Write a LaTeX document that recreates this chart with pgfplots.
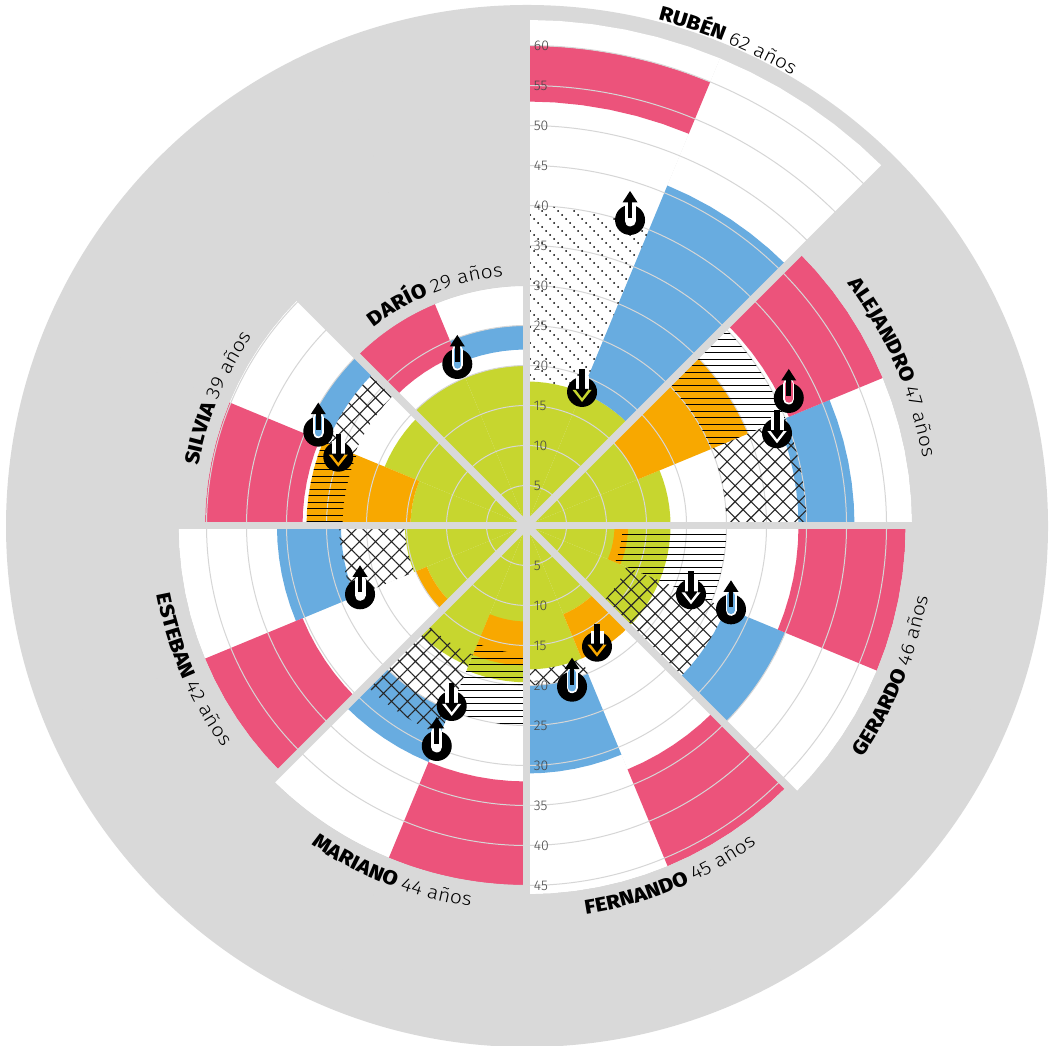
\documentclass[border=0pt]{standalone}
\usepackage{pgfplots}
\pgfplotsset{compat=1.18}
\usepackage{fontspec}
\usepgfplotslibrary{polar}
\usetikzlibrary{patterns,patterns.meta,decorations.text}
\setmainfont{Fira Sans}
\newfontfamily\lt{Fira Sans Light}
\newfontfamily\ltsp{Fira Sans Light}[FakeStretch=1.11]
\newfontfamily\hv{Fira Sans ExtraBold}[FakeStretch=1.11]
\definecolor{disc}{HTML}{D9D9D9}
\definecolor{gridc}{HTML}{D6D6D6}
\definecolor{cred}{HTML}{EC537B}
\definecolor{cblue}{HTML}{68ACE0}
\definecolor{cgreen}{HTML}{C7D62F}
\definecolor{corange}{HTML}{F8A800}
\definecolor{numc}{HTML}{444444}
\pgfdeclarepatternformonly{diagdots}{\pgfqpoint{-1pt}{-1pt}}{\pgfqpoint{17pt}{17pt}}{\pgfqpoint{16pt}{16pt}}{%
  \pgfpathcircle{\pgfqpoint{2pt}{14pt}}{1pt}\pgfpathcircle{\pgfqpoint{6pt}{10pt}}{1pt}%
  \pgfpathcircle{\pgfqpoint{10pt}{6pt}}{1pt}\pgfpathcircle{\pgfqpoint{14pt}{2pt}}{1pt}\pgfusepath{fill}}
\pgfdeclarepatternformonly{hlines}{\pgfqpoint{-2pt}{-1pt}}{\pgfqpoint{42pt}{7.5pt}}{\pgfqpoint{40pt}{6.5pt}}{%
  \pgfpathrectanglecorners{\pgfqpoint{-2pt}{2.7pt}}{\pgfqpoint{42pt}{3.8pt}}\pgfusepath{fill}}
\pgfplotsset{
  bnd/.style={data cs=polar,draw=none},
  cw/.style={bnd,fill=white},
  cg/.style={bnd,fill=cgreen},
  co/.style={bnd,fill=corange},
  cb/.style={bnd,fill=cblue},
  cr/.style={bnd,fill=cred},
  cd/.style={bnd,fill=disc},
  hh/.style={bnd,pattern=hlines,pattern color=black},
  hx/.style={bnd,pattern={Hatch[angle=45,distance=11.3pt,line width=1.1pt]},pattern color=black!85},
  hd/.style={bnd,pattern=diagdots,pattern color=black},
}
% one half sector: seven angles, then inner and outer radius
\newcommand\seg[9]{(#1,#9)(#2,#9)(#3,#9)(#4,#9)(#5,#9)(#6,#9)(#7,#9)(#7,#8)(#6,#8)(#5,#8)(#4,#8)(#3,#8)(#2,#8)(#1,#8)}
\newcommand\sA[2]{\seg{67.5}{71.25}{75}{78.75}{82.5}{86.25}{90}{#1}{#2}}
\newcommand\sB[2]{\seg{45}{48.75}{52.5}{56.25}{60}{63.75}{67.5}{#1}{#2}}
\newcommand\sC[2]{\seg{22.5}{26.25}{30}{33.75}{37.5}{41.25}{45}{#1}{#2}}
\newcommand\sD[2]{\seg{0}{3.75}{7.5}{11.25}{15}{18.75}{22.5}{#1}{#2}}
\newcommand\sE[2]{\seg{-22.5}{-18.75}{-15}{-11.25}{-7.5}{-3.75}{0}{#1}{#2}}
\newcommand\sF[2]{\seg{-45}{-41.25}{-37.5}{-33.75}{-30}{-26.25}{-22.5}{#1}{#2}}
\newcommand\sG[2]{\seg{-67.5}{-63.75}{-60}{-56.25}{-52.5}{-48.75}{-45}{#1}{#2}}
\newcommand\sH[2]{\seg{-90}{-86.25}{-82.5}{-78.75}{-75}{-71.25}{-67.5}{#1}{#2}}
\newcommand\sI[2]{\seg{-112.5}{-108.75}{-105}{-101.25}{-97.5}{-93.75}{-90}{#1}{#2}}
\newcommand\sJ[2]{\seg{-135}{-131.25}{-127.5}{-123.75}{-120}{-116.25}{-112.5}{#1}{#2}}
\newcommand\sK[2]{\seg{-157.5}{-153.75}{-150}{-146.25}{-142.5}{-138.75}{-135}{#1}{#2}}
\newcommand\sL[2]{\seg{-180}{-176.25}{-172.5}{-168.75}{-165}{-161.25}{-157.5}{#1}{#2}}
\newcommand\sM[2]{\seg{-202.5}{-198.75}{-195}{-191.25}{-187.5}{-183.75}{-180}{#1}{#2}}
\newcommand\sN[2]{\seg{-225}{-221.25}{-217.5}{-213.75}{-210}{-206.25}{-202.5}{#1}{#2}}
\newcommand\sO[2]{\seg{-247.5}{-243.75}{-240}{-236.25}{-232.5}{-228.75}{-225}{#1}{#2}}
\newcommand\sP[2]{\seg{-270}{-266.25}{-262.5}{-258.75}{-255}{-251.25}{-247.5}{#1}{#2}}
\newcommand\band[2]{\edef\tmpband{\noexpand\addplot[#1] coordinates {#2};}\tmpband}
% markers
\newcommand\declmarks[2]{%
\pgfdeclareplotmark{up#1}{%
  \pgfsetfillcolor{black}\pgfpathcircle{\pgfpointorigin}{15pt}\pgfusepathqfill
  \pgfsetroundcap
  \pgfsetstrokecolor{white}\pgfsetlinewidth{11pt}%
  \pgfpathmoveto{\pgfqpoint{0pt}{-1pt}}\pgfpathlineto{\pgfqpoint{0pt}{14pt}}\pgfusepathqstroke
  \pgfsetstrokecolor{#2}\pgfsetlinewidth{7.5pt}%
  \pgfpathmoveto{\pgfqpoint{0pt}{-1pt}}\pgfpathlineto{\pgfqpoint{0pt}{14pt}}\pgfusepathqstroke
  \pgfpathrectanglecorners{\pgfqpoint{-2.4pt}{2pt}}{\pgfqpoint{2.4pt}{20pt}}\pgfusepathqfill
  \pgfpathmoveto{\pgfqpoint{-7.5pt}{17.5pt}}\pgfpathlineto{\pgfqpoint{7.5pt}{17.5pt}}\pgfpathlineto{\pgfqpoint{0pt}{29pt}}\pgfpathclose\pgfusepathqfill
}%
\pgfdeclareplotmark{dn#1}{%
  \pgfsetfillcolor{black}\pgfpathcircle{\pgfpointorigin}{15pt}\pgfusepathqfill
  \pgfsetfillcolor{white}%
  \pgfpathrectanglecorners{\pgfqpoint{-6.5pt}{1pt}}{\pgfqpoint{6.5pt}{16pt}}\pgfusepathqfill
  \pgfsetfillcolor{#2}%
  \pgfpathmoveto{\pgfqpoint{-9.5pt}{2pt}}\pgfpathlineto{\pgfqpoint{9.5pt}{2pt}}\pgfpathlineto{\pgfqpoint{0pt}{-10pt}}\pgfpathclose\pgfusepathqfill
  \pgfsetfillcolor{black}%
  \pgfpathrectanglecorners{\pgfqpoint{-2.6pt}{0pt}}{\pgfqpoint{2.6pt}{23pt}}\pgfusepathqfill
  \pgfpathmoveto{\pgfqpoint{-6.8pt}{3pt}}\pgfpathlineto{\pgfqpoint{6.8pt}{3pt}}\pgfpathlineto{\pgfqpoint{0pt}{-6pt}}\pgfpathclose\pgfusepathqfill
}}
\declmarks{white}{white}
\declmarks{blue}{cblue}
\declmarks{red}{cred}
\declmarks{orange}{corange}
\declmarks{green}{cgreen}
\newcommand\arclabel[5]{\path[shift={(526.5pt,519.5pt)},decorate,decoration={text along path,text={|\hv\fontsize{20}{24}\selectfont|#4 |\ltsp\fontsize{19}{24}\selectfont|#5 años}}] (#1:#3pt) arc[start angle=#1,end angle=#2,radius=#3pt];}
\begin{document}
\begin{tikzpicture}[x=1pt,y=1pt]
\useasboundingbox (0,0) rectangle (1056,1045);
\begin{axis}[at={(0pt,0pt)},anchor=south west,scale only axis,width=1056pt,height=1045pt,
  xmin=-65.8125,xmax=66.1875,ymin=-64.9375,ymax=65.6875,hide axis]
\fill[disc] (axis cs:0.0625,-0.0625) circle [radius=521pt];
% white sectors, one age each
\band{cw}{\sA{0}{63.2}}\band{cw}{\sB{0}{63.2}}
\band{cw}{\sC{0}{48.2}}\band{cw}{\sD{0}{48.2}}
\band{cw}{\sE{0}{47.4}}\band{cw}{\sF{0}{47.4}}
\band{cw}{\sG{0}{46.1}}\band{cw}{\sH{0}{46.1}}
\band{cw}{\sI{0}{45}}\band{cw}{\sJ{0}{45}}
\band{cw}{\sK{0}{43.5}}\band{cw}{\sL{0}{43.5}}
\band{cw}{\sM{0}{40.2}}\band{cw}{\sN{0}{40.2}}
\band{cw}{\sO{0}{30}}\band{cw}{\sP{0}{30}}
% green
\band{cg}{\sA{0}{18}}\band{cg}{\sB{0}{18}}
\band{cg}{\sC{0}{15}}\band{cg}{\sD{0}{18}}
\band{cg}{\sE{0}{18}}\band{cg}{\sF{0}{18}}
\band{cg}{\sG{0}{12}}\band{cg}{\sH{0}{18}}
\band{cg}{\sI{0}{19.6}}\band{cg}{\sJ{0}{19}}
\band{cg}{\sK{0}{13.5}}\band{cg}{\sL{0}{15.2}}
\band{cg}{\sM{0}{14.5}}\band{cg}{\sN{0}{19.2}}
\band{cg}{\sO{0}{20}}\band{cg}{\sP{0}{20}}
% orange
\band{co}{\sC{15}{30}}
\band{co}{\sE{11}{12.7}}
\band{co}{\sG{12}{18}}
\band{co}{\sI{12}{17.5}}
\band{co}{\sK{13.5}{15}}
\band{co}{\sM{14.5}{27.5}}
% blue
\band{cb}{\sB{18}{46}}
\band{cb}{\sD{34}{41}}
\band{cb}{\sF{27}{35}}
\band{cb}{\sH{20}{31}}
\band{cb}{\sJ{25}{32}}
\band{cb}{\sL{23.2}{31.2}}
\band{cb}{\sN{27}{30}}
\band{cb}{\sP{22}{25}}
% red
\band{cr}{\sA{53}{60}}
\band{cr}{\sC{35.5}{48.2}}
\band{cr}{\sE{34}{47.4}}
\band{cr}{\sG{33}{46.1}}
\band{cr}{\sI{32}{45}}
\band{cr}{\sK{30.3}{43.5}}
\band{cr}{\sM{28}{40.2}}
\band{cr}{\sO{23}{30}}
% grid
\pgfplotsinvokeforeach{40,80,120,160,200,240,280,320,360,400,440,480}{
  \draw[gridc,line width=1pt] (axis cs:0,0) circle [radius=#1pt];
}
% grey beyond each age
\band{cd}{\sC{48.2}{61}}\band{cd}{\sD{48.2}{61}}
\band{cd}{\sE{47.4}{61}}\band{cd}{\sF{47.4}{61}}
\band{cd}{\sG{46.1}{61}}\band{cd}{\sH{46.1}{61}}
\band{cd}{\sI{45}{61}}\band{cd}{\sJ{45}{61}}
\band{cd}{\sK{43.5}{61}}\band{cd}{\sL{43.5}{61}}
\band{cd}{\sM{40.2}{61}}\band{cd}{\sN{40.2}{61}}
\band{cd}{\sO{30}{61}}\band{cd}{\sP{30}{61}}
% hatches
\band{hd}{\sA{18}{40}}
\band{hh}{\sC{25}{35}}
\band{hx}{\sD{25}{35}}
\band{hh}{\sE{12}{25}}
\band{hx}{\sF{13.5}{27}}
\band{hx}{\sH{18}{20}}
\band{hh}{\sI{16}{25}}
\band{hx}{\sJ{17.5}{28.3}}
\band{hx}{\sL{15.2}{23.4}}
\band{hh}{\sM{23}{27.5}}
\band{hx}{\sN{23.3}{27}}
% spokes
\addplot[data cs=polar,disc,line width=7.5pt] coordinates {(90,64)(-90,64)};
\addplot[data cs=polar,disc,line width=7.5pt] coordinates {(0,64)(180,64)};
\addplot[data cs=polar,disc,line width=7.5pt] coordinates {(45,64)(-135,64)};
\addplot[data cs=polar,disc,line width=7.5pt] coordinates {(135,64)(-45,64)};
% radial numbers
\pgfplotsinvokeforeach{5,10,...,60}{
  \node[anchor=west,inner sep=0pt,text=numc,font=\lt\fontsize{14}{14}\selectfont] at (axis cs:0.9,#1) {#1};
}
\pgfplotsinvokeforeach{5,10,...,45}{
  \node[anchor=west,inner sep=0pt,text=numc,font=\lt\fontsize{14}{14}\selectfont] at (axis cs:0.9,-#1) {#1};
}
% markers
\addplot[only marks,mark=upwhite] coordinates {(12.94,38.19)};
\addplot[only marks,mark=dngreen] coordinates {(6.94,16.69)};
\addplot[only marks,mark=upred] coordinates {(32.78,15.94)};
\addplot[only marks,mark=dnwhite] coordinates {(31.31,11.53)};
\addplot[only marks,mark=dnwhite] coordinates {(20.56,-8.6)};
\addplot[only marks,mark=upblue] coordinates {(25.56,-10.48)};
\addplot[only marks,mark=dnorange] coordinates {(8.81,-15.15)};
\addplot[only marks,mark=upblue] coordinates {(5.69,-20.15)};
\addplot[only marks,mark=dnwhite] coordinates {(-9.35,-22.56)};
\addplot[only marks,mark=upwhite] coordinates {(-11.22,-27.56)};
\addplot[only marks,mark=upwhite] coordinates {(-20.81,-8.6)};
\addplot[only marks,mark=upblue] coordinates {(-26.03,11.73)};
\addplot[only marks,mark=dnorange] coordinates {(-23.53,8.6)};
\addplot[only marks,mark=upblue] coordinates {(-8.65,20.19)};
\end{axis}
\arclabel{75.4}{45}{522.5}{RUBÉN}{62}
\arclabel{37}{-12}{402}{ALEJANDRO}{47}
\arclabel{-34.6}{12}{408}{GERARDO}{46}
\arclabel{-81.3}{-28}{393}{FERNANDO}{45}
\arclabel{-124}{-78}{385}{MARIANO}{44}
\arclabel{-169.4}{-118}{376}{ESTEBAN}{42}
\arclabel{169.7}{118}{333}{SILVIA}{39}
\arclabel{127.6}{83}{250}{DARÍO}{29}
\end{tikzpicture}
\end{document}
